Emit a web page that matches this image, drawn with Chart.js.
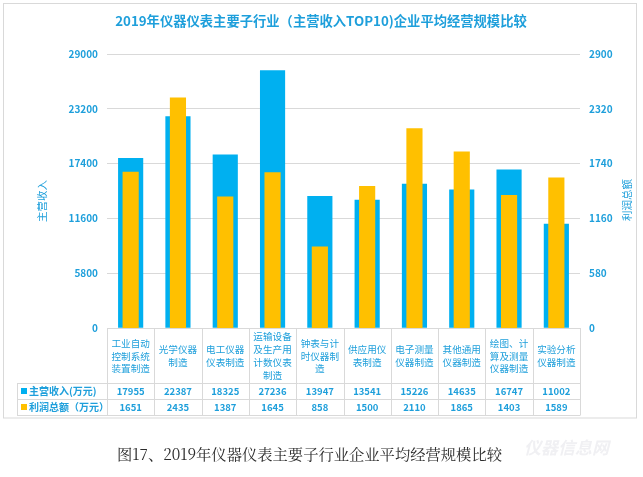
<!DOCTYPE html>
<html>
<head>
<meta charset="utf-8">
<script src="https://cdn.jsdelivr.net/npm/chart.js@4/dist/chart.umd.min.js"></script>
<style>
  html, body { margin: 0; padding: 0; background: #fff; }
  #wrap { position: relative; width: 643px; height: 477px; overflow: hidden; }
  #c { position: absolute; left: 0; top: 0; }
  #caption { position: absolute; left: 117px; top: 442px; font-family: "Noto Serif CJK SC", "Liberation Serif", "Noto Sans CJK SC", serif; font-size: 15.3px; color: #2b2b2b; white-space: nowrap; }
  #wm { position: absolute; left: 524px; top: 434px; font-family: "Noto Sans CJK SC", sans-serif; font-size: 17px; font-weight: bold; color: #f0f0f3; white-space: nowrap; font-style: italic; }
</style>
</head>
<body>
<div id="wrap">
  <canvas id="c" width="643" height="477"></canvas>
  <div id="caption">图17、2019年仪器仪表主要子行业企业平均经营规模比较</div>
  <div id="wm">仪器信息网</div>
</div>
<script>
const chartTitle = "2019年仪器仪表主要子行业（主营收入TOP10)企业平均经营规模比较";
const categories = ["工业自动控制系统装置制造", "光学仪器制造", "电工仪器仪表制造", "运输设备及生产用计数仪表制造", "钟表与计时仪器制造", "供应用仪表制造", "电子测量仪器制造", "其他通用仪器制造", "绘图、计算及测量仪器制造", "实验分析仪器制造"];
const revenue = [17955, 22387, 18325, 27236, 13947, 13541, 15226, 14635, 16747, 11002];
const profit = [1651, 2435, 1387, 1645, 858, 1500, 2110, 1865, 1403, 1589];
const leftTicks = [0, 5800, 11600, 17400, 23200, 29000];
const rightTicks = [0, 580, 1160, 1740, 2320, 2900];
const seriesNames = ["主营收入(万元)", "利润总额（万元）"];
const axisTitles = ["主营收入", "利润总额"];

const BLUE = "#00B0F0";
const ORANGE = "#FFC000";
const TXT = "#1E9FDB";
const LINE = "#D9D9D9";
const FONT = '"Noto Sans CJK SC", "Noto Sans", sans-serif';

function splitLabel(s) {
  const out = [];
  for (let i = 0; i < s.length; i += 4) out.push(s.slice(i, i + 4));
  return out;
}

const decorPlugin = {
  id: 'decor',
  beforeDraw(chart) {
    const ctx = chart.ctx;
    ctx.save();
    ctx.fillStyle = '#fff';
    ctx.fillRect(0, 0, chart.width, chart.height);
    ctx.strokeStyle = LINE;
    ctx.lineWidth = 1;
    ctx.strokeRect(3.5, 3.5, 633, 414.5);
    // title
    ctx.fillStyle = TXT;
    ctx.font = 'bold 13.3px ' + FONT;
    ctx.textAlign = 'center';
    ctx.textBaseline = 'middle';
    ctx.fillText(chartTitle, 321, 20.5);
    // axis titles
    ctx.font = '10.5px ' + FONT;
    ctx.save();
    ctx.translate(42, 201);
    ctx.rotate(-Math.PI / 2);
    ctx.fillText(axisTitles[0], 0, 0);
    ctx.restore();
    ctx.save();
    ctx.translate(627, 200);
    ctx.rotate(-Math.PI / 2);
    ctx.fillText(axisTitles[1], 0, 0);
    ctx.restore();
    ctx.restore();
  },
  afterDraw(chart) {
    const ctx = chart.ctx;
    const x = chart.scales.x;
    const area = chart.chartArea;
    const n = categories.length;
    const w = (area.right - area.left) / n;
    const top = area.bottom;
    const r1 = 383, r2 = 399, r3 = 415;
    const legLeft = 17;
    ctx.save();
    ctx.strokeStyle = LINE;
    ctx.lineWidth = 1;
    ctx.beginPath();
    ctx.moveTo(area.left, Math.round(top) + 0.5); ctx.lineTo(area.right, Math.round(top) + 0.5);
    [r1, r2, r3].forEach(y => { ctx.moveTo(legLeft, y + 0.5); ctx.lineTo(area.right, y + 0.5); });
    for (let i = 0; i <= n; i++) {
      const xx = Math.round(area.left + w * i) + 0.5;
      ctx.moveTo(xx, top); ctx.lineTo(xx, r3 + 0.5);
    }
    ctx.moveTo(legLeft + 0.5, r1); ctx.lineTo(legLeft + 0.5, r3 + 0.5);
    ctx.stroke();

    ctx.fillStyle = TXT;
    ctx.textAlign = 'center';
    ctx.textBaseline = 'middle';
    ctx.font = '9.6px ' + FONT;
    const midY = (top + r1) / 2 + 0.5;
    const lh = 12.8;
    categories.forEach((c, i) => {
      const cx = x.getPixelForValue(i);
      const lines = splitLabel(c);
      const y0 = midY - (lines.length - 1) * lh / 2;
      lines.forEach((ln, k) => ctx.fillText(ln, cx, y0 + k * lh));
    });
    ctx.font = '600 9.5px ' + FONT;
    revenue.forEach((v, i) => ctx.fillText(String(v), x.getPixelForValue(i), (r1 + r2) / 2 + 0.5));
    profit.forEach((v, i) => ctx.fillText(String(v), x.getPixelForValue(i), (r2 + r3) / 2 + 0.5));
    ctx.textAlign = 'left';
    ctx.font = '600 10px ' + FONT;
    ctx.fillStyle = BLUE;
    ctx.fillRect(21, (r1 + r2) / 2 - 3, 6, 6);
    ctx.fillStyle = ORANGE;
    ctx.fillRect(21, (r2 + r3) / 2 - 3, 6, 6);
    ctx.fillStyle = TXT;
    ctx.fillText(seriesNames[0], 29, (r1 + r2) / 2 + 0.5);
    ctx.fillText(seriesNames[1], 29, (r2 + r3) / 2 + 0.5);
    ctx.restore();
  }
};

new Chart(document.getElementById('c'), {
  type: 'bar',
  data: {
    labels: categories,
    datasets: [
      { label: seriesNames[1], data: profit, yAxisID: 'y1', backgroundColor: ORANGE, barThickness: 15.5, grouped: false, order: 0 },
      { label: seriesNames[0], data: revenue, yAxisID: 'y', backgroundColor: BLUE, barThickness: 24.5, grouped: false, order: 1 }
    ]
  },
  options: {
    responsive: false,
    devicePixelRatio: 1,
    animation: false,
    layout: { padding: { left: 0, right: 0, top: 54, bottom: 149 } },
    plugins: { legend: { display: false }, title: { display: false }, tooltip: { enabled: false } },
    scales: {
      x: { display: false, offset: true },
      y: {
        position: 'left', min: 0, max: 29000,
        afterFit(s) { s.width = 107; },
        afterBuildTicks(s) { s.ticks = leftTicks.map(v => ({ value: v })); },
        grid: { color: LINE, drawTicks: false },
        border: { display: false },
        ticks: { padding: 9, color: TXT, font: { family: FONT, size: 10, weight: '600' }, callback: v => String(v) }
      },
      y1: {
        position: 'right', min: 0, max: 2900,
        afterFit(s) { s.width = 63; },
        afterBuildTicks(s) { s.ticks = rightTicks.map(v => ({ value: v })); },
        grid: { display: false, drawTicks: false },
        border: { display: false },
        ticks: { padding: 9, color: TXT, font: { family: FONT, size: 10, weight: '600' }, callback: v => String(v) }
      }
    }
  },
  plugins: [decorPlugin]
});
</script>
</body>
</html>
